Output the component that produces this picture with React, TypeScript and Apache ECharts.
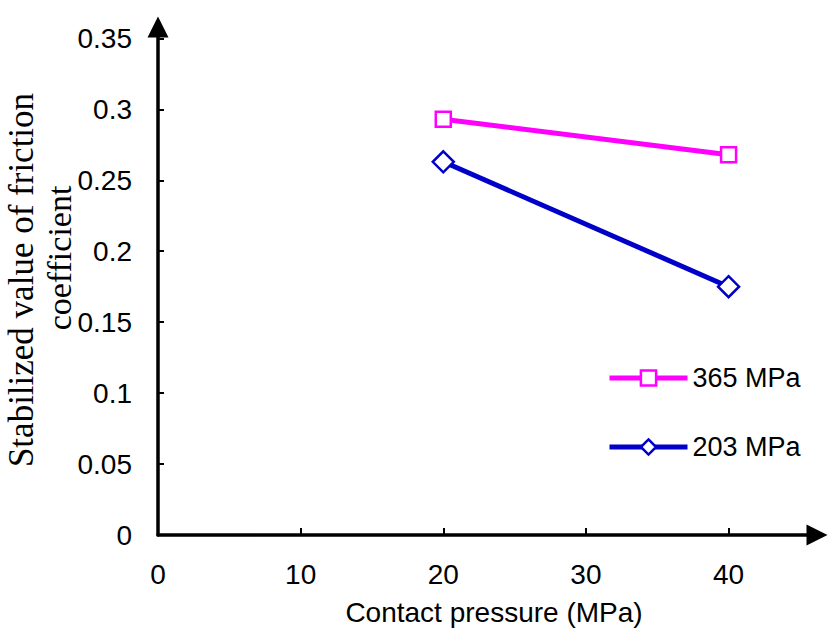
import React, { useEffect, useRef } from "react";
import * as echarts from "echarts";

const xTicks = [0, 10, 20, 30, 40];
const pressures = [20, 40];
const series365 = [0.293, 0.268];
const series203 = [0.263, 0.175];
const seriesNames = ["365 MPa", "203 MPa"];
const yTitleLines = ["Stabilized value of friction", "coefficient"];
const xTitle = "Contact pressure (MPa)";

const MAGENTA = "#FF00FF";
const BLUE = "#0000C8";
const SANS = "'Liberation Sans', Arial, sans-serif";
const SERIF = "'Liberation Serif', 'Times New Roman', serif";

export default function App() {
  const ref = useRef<HTMLDivElement>(null);
  useEffect(() => {
    if (!ref.current) return;
    const chart = echarts.init(ref.current, null, { renderer: "svg" });
    const axisLine = {
      show: true,
      symbol: ["none", "triangle"],
      symbolSize: [21, 21],
      lineStyle: { color: "#000", width: 3.5 },
    };
    chart.setOption({
      animation: false,
      backgroundColor: "#fff",
      grid: { left: 158, right: 12, top: 27, bottom: 95, containLabel: false },
      xAxis: {
        type: "value",
        min: 0,
        max: 46.2,
        interval: 10,
        axisLine,
        axisTick: { show: true, inside: true, length: 7, lineStyle: { color: "#000", width: 2 } },
        axisLabel: {
          show: true,
          margin: 25,
          fontSize: 28,
          fontFamily: SANS,
          color: "#000",
          showMaxLabel: false,
          formatter: (v: number) => (xTicks.indexOf(Math.round(v)) >= 0 && Math.abs(v - Math.round(v)) < 1e-6 ? String(Math.round(v)) : ""),
        },
        splitLine: { show: false },
      },
      yAxis: {
        type: "value",
        min: 0,
        max: 0.358,
        interval: 0.05,
        axisLine,
        axisTick: { show: true, inside: true, length: 6, lineStyle: { color: "#000", width: 2 } },
        axisLabel: {
          show: true,
          margin: 26,
          fontSize: 28,
          fontFamily: SANS,
          color: "#000",
          showMaxLabel: false,
          formatter: (v: number) => String(Math.round(v * 100) / 100),
        },
        splitLine: { show: false },
      },
      legend: {
        orient: "vertical",
        left: 607,
        top: 364,
        padding: 0,
        itemWidth: 78,
        itemHeight: 19,
        itemGap: 41,
        textStyle: { fontSize: 27, fontFamily: SANS, color: "#000", lineHeight: 28 },
        data: [
          {
            name: seriesNames[0],
            itemStyle: { color: "#fff", borderColor: MAGENTA, borderWidth: 2.5 },
            lineStyle: { color: MAGENTA, width: 5 },
          },
          {
            name: seriesNames[1],
            itemStyle: { color: "#fff", borderColor: BLUE, borderWidth: 2.5 },
            lineStyle: { color: BLUE, width: 5 },
          },
        ],
      },
      series: [
        {
          name: seriesNames[0],
          type: "line",
          data: pressures.map((p, i) => [p, series365[i]]),
          symbol: "rect",
          symbolSize: 15,
          color: MAGENTA,
          lineStyle: { color: MAGENTA, width: 5 },
          itemStyle: { color: "#fff", borderColor: MAGENTA, borderWidth: 2.5 },
          z: 3,
        },
        {
          name: seriesNames[1],
          type: "line",
          data: pressures.map((p, i) => [p, series203[i]]),
          symbol: "diamond",
          symbolSize: 21,
          color: BLUE,
          lineStyle: { color: BLUE, width: 5 },
          itemStyle: { color: "#fff", borderColor: BLUE, borderWidth: 2.5 },
          z: 3,
        },
      ],
      graphic: [
        {
          type: "text",
          x: 21.5,
          y: 280,
          rotation: Math.PI / 2,
          style: {
            text: yTitleLines[0],
            fontSize: 35,
            fontFamily: SERIF,
            fill: "#000",
            textAlign: "center",
            textVerticalAlign: "middle",
          },
        },
        {
          type: "text",
          x: 59.5,
          y: 258,
          rotation: Math.PI / 2,
          style: {
            text: yTitleLines[1],
            fontSize: 34,
            fontFamily: SERIF,
            fill: "#000",
            textAlign: "center",
            textVerticalAlign: "middle",
          },
        },
        {
          type: "text",
          x: 494,
          y: 612.5,
          style: {
            text: xTitle,
            fontSize: 28,
            fontFamily: SANS,
            fill: "#000",
            textAlign: "center",
            textVerticalAlign: "middle",
          },
        },
      ],
    });
    return () => chart.dispose();
  }, []);
  return (
    <div
      ref={ref}
      style={{ position: "fixed", left: 0, top: 0, width: 829, height: 630, background: "#fff" }}
    />
  );
}
